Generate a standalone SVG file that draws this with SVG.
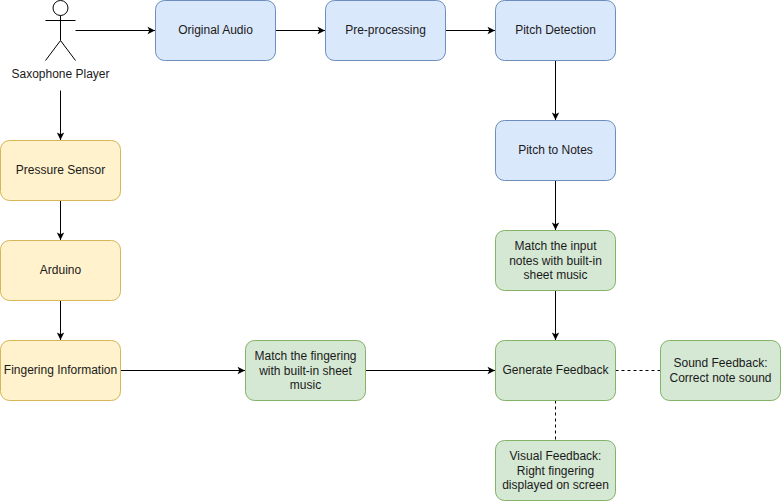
<svg xmlns="http://www.w3.org/2000/svg" width="781" height="502" viewBox="0 0 781 502">
<style>
text{font-family:"Liberation Sans",Arial,Helvetica,sans-serif;font-size:12px;fill:#1a1a1a;text-anchor:middle}
.b rect{stroke-width:1}
.blue rect{fill:#dae8fc;stroke:#6c8ebf}
.yellow rect{fill:#fff2cc;stroke:#d6b656}
.green rect{fill:#d5e8d4;stroke:#82b366}
.c path{fill:none;stroke:#000;stroke-width:1}
.d{stroke-dasharray:3 3}
.actor *{fill:#fff;stroke:#000;stroke-width:1}
.actor path{fill:none}
.actor text{fill:#1a1a1a;stroke:none}
</style>
<defs>
<marker id="a" markerUnits="userSpaceOnUse" markerWidth="9" markerHeight="9" refX="8" refY="4.500" orient="auto"><path d="M0.500 0.800 L8 4.500 L0.500 8.200 L2.300 4.500 Z" fill="#000"/></marker>
</defs>
<rect width="781" height="502" fill="#fff"/>
<g id="connectors" class="c">
<path marker-end="url(#a)" d="M75.500 30.500H155"/>
<path marker-end="url(#a)" d="M275.500 30.500H325"/>
<path marker-end="url(#a)" d="M445.500 30.500H495"/>
<path marker-end="url(#a)" d="M555.500 60.500V120"/>
<path marker-end="url(#a)" d="M555.500 180.500V230"/>
<path marker-end="url(#a)" d="M555.500 290.500V340"/>
<path marker-end="url(#a)" d="M60.500 90.500V140"/>
<path marker-end="url(#a)" d="M60.500 200.500V240"/>
<path marker-end="url(#a)" d="M60.500 300.500V340"/>
<path marker-end="url(#a)" d="M120.500 370.500H245"/>
<path marker-end="url(#a)" d="M365.500 370.500H495"/>
<path class="d" d="M615.500 370.500H660.500"/>
<path class="d" d="M555.500 400.500V440.500"/>
</g>
<g id="saxophone-player" class="actor">
<circle cx="60.500" cy="8" r="7.500"/>
<path d="M60.500 15.500V40.500M45.500 20.500H75.500M60.500 40.500L45.500 60.500M60.500 40.500L75.500 60.500"/>
<text x="60.500" y="78">Saxophone Player</text>
</g>
<g id="original-audio" class="b blue"><rect x="155.500" y="0.500" width="120" height="60" rx="9"/><text x="215.500" y="34">Original Audio</text></g>
<g id="pre-processing" class="b blue"><rect x="325.500" y="0.500" width="120" height="60" rx="9"/><text x="385.500" y="34">Pre-processing</text></g>
<g id="pitch-detection" class="b blue"><rect x="495.500" y="0.500" width="120" height="60" rx="9"/><text x="555.500" y="34">Pitch Detection</text></g>
<g id="pitch-to-notes" class="b blue"><rect x="495.500" y="120.500" width="120" height="60" rx="9"/><text x="555.500" y="154">Pitch to Notes</text></g>
<g id="match-input" class="b green"><rect x="495.500" y="230.500" width="120" height="60" rx="9"/><text x="555.500" y="250">Match the input</text><text x="555.500" y="264.500">notes with built-in</text><text x="555.500" y="279">sheet music</text></g>
<g id="pressure-sensor" class="b yellow"><rect x="0.500" y="140.500" width="120" height="60" rx="9"/><text x="60.500" y="174">Pressure Sensor</text></g>
<g id="arduino" class="b yellow"><rect x="0.500" y="240.500" width="120" height="60" rx="9"/><text x="60.500" y="274">Arduino</text></g>
<g id="fingering-information" class="b yellow"><rect x="0.500" y="340.500" width="120" height="60" rx="9"/><text x="60.500" y="374">Fingering Information</text></g>
<g id="match-fingering" class="b green"><rect x="245.500" y="340.500" width="120" height="60" rx="9"/><text x="305.500" y="360">Match the fingering</text><text x="305.500" y="374.500">with built-in sheet</text><text x="305.500" y="389">music</text></g>
<g id="generate-feedback" class="b green"><rect x="495.500" y="340.500" width="120" height="60" rx="9"/><text x="555.500" y="374">Generate Feedback</text></g>
<g id="sound-feedback" class="b green"><rect x="660.500" y="340.500" width="120" height="60" rx="9"/><text x="720.500" y="367">Sound Feedback:</text><text x="720.500" y="381.500">Correct note sound</text></g>
<g id="visual-feedback" class="b green"><rect x="495.500" y="440.500" width="120" height="60" rx="9"/><text x="555.500" y="460">Visual Feedback:</text><text x="555.500" y="474.500">Right fingering</text><text x="555.500" y="489">displayed on screen</text></g>
</svg>
